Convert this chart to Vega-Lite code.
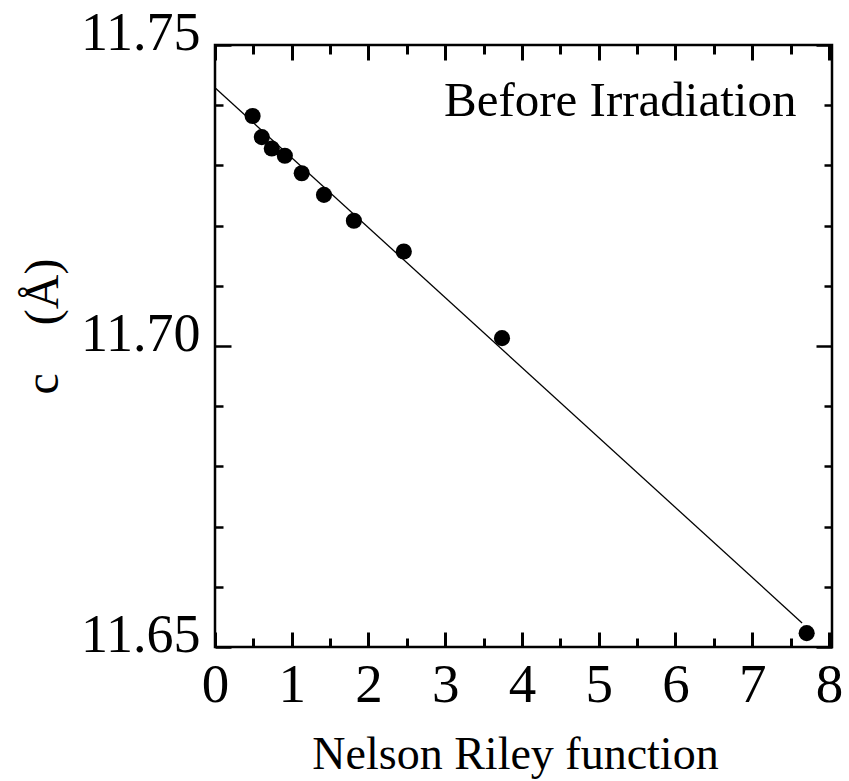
{
  "$schema": "https://vega.github.io/schema/vega-lite/v6.json",
  "width": 617,
  "height": 602,
  "autosize": {"type": "none"},
  "padding": {"left": 215, "top": 45, "right": 17, "bottom": 134},
  "background": "white",
  "config": {
    "view": {"stroke": "black", "strokeWidth": 2.5},
    "font": "Liberation Serif",
    "axis": {
      "labelColor": "black",
      "titleColor": "black",
      "labelFont": "Liberation Serif",
      "titleFont": "Liberation Serif",
      "titleFontWeight": "normal",
      "labelOverlap": false,
      "labelFlush": false
    }
  },
  "layer": [
    {
      "data": {"values": [
        {"nr": 0.0, "c": 11.7429},
        {"nr": 7.65, "c": 11.6540}
      ]},
      "mark": {"type": "line", "color": "black", "strokeWidth": 1.3},
      "encoding": {
        "x": {
          "field": "nr", "type": "quantitative",
          "scale": {"domain": [0, 8.04], "nice": false, "zero": false},
          "axis": {
            "orient": "bottom",
            "domain": false, "grid": false, "ticks": true,
            "tickColor": "#000000", "tickWidth": 3, "tickSize": -15,
            "title": "Nelson Riley function",
            "titleFontSize": 46,
            "titlePadding": 20,
            "titleX": 300,
            "values": [0, 1, 2, 3, 4, 5, 6, 7, 8],
            "format": "d",
            "labelFontSize": 55,
            "labelPadding": 26,
            "labelBaseline": "top"
          }
        },
        "y": {
          "field": "c", "type": "quantitative",
          "scale": {"domain": [11.65, 11.75], "nice": false, "zero": false},
          "axis": {
            "orient": "left",
            "domain": false, "grid": false, "ticks": true,
            "tickColor": "#000000", "tickWidth": 2.5, "tickSize": -16,
            "title": "c\u00a0\u00a0\u00a0\u00a0(Å)",
            "titleFontSize": 48,
            "titlePadding": 13,
            "titleY": 281,
            "values": [11.65, 11.7, 11.75],
            "format": ".2f",
            "labelFontSize": 54,
            "labelPadding": 31,
            "labelBaseline": "middle",
            "labelOffset": -12
          }
        }
      }
    },
    {
      "data": {"values": [
        {"nr": 0.49, "c": 11.7382},
        {"nr": 0.61, "c": 11.7347},
        {"nr": 0.74, "c": 11.7328},
        {"nr": 0.91, "c": 11.7316},
        {"nr": 1.13, "c": 11.7287},
        {"nr": 1.42, "c": 11.7251},
        {"nr": 1.81, "c": 11.7208},
        {"nr": 2.46, "c": 11.7157},
        {"nr": 3.74, "c": 11.7013}
      ]},
      "mark": {"type": "circle", "color": "black", "opacity": 1, "size": 260},
      "encoding": {
        "x": {
          "field": "nr", "type": "quantitative",
          "scale": {"domain": [0, 8.04], "nice": false, "zero": false},
          "axis": {
            "orient": "top", "title": null, "labels": false,
            "domain": false, "grid": false, "ticks": true,
            "tickColor": "#000000", "tickWidth": 3, "tickSize": -15,
            "values": [0, 1, 2, 3, 4, 5, 6, 7, 8]
          }
        },
        "y": {
          "field": "c", "type": "quantitative",
          "scale": {"domain": [11.65, 11.75], "nice": false, "zero": false},
          "axis": {
            "orient": "right", "title": null, "labels": false,
            "domain": false, "grid": false, "ticks": true,
            "tickColor": "#000000", "tickWidth": 2.5, "tickSize": -16,
            "values": [11.65, 11.7, 11.75]
          }
        }
      }
    },
    {
      "data": {"values": [
        {"nr": 7.71, "c": 11.6523}
      ]},
      "mark": {"type": "circle", "color": "black", "opacity": 1, "size": 260},
      "encoding": {
        "x": {
          "field": "nr", "type": "quantitative",
          "scale": {"domain": [0, 8.04], "nice": false, "zero": false},
          "axis": {
            "orient": "bottom", "title": null, "labels": false,
            "domain": false, "grid": false, "ticks": true,
            "tickColor": "#000000", "tickWidth": 3, "tickSize": -9,
            "values": [0.5, 1.5, 2.5, 3.5, 4.5, 5.5, 6.5, 7.5]
          }
        },
        "y": {
          "field": "c", "type": "quantitative",
          "scale": {"domain": [11.65, 11.75], "nice": false, "zero": false},
          "axis": {
            "orient": "left", "title": null, "labels": false,
            "domain": false, "grid": false, "ticks": true,
            "tickColor": "#000000", "tickWidth": 2.5, "tickSize": -8,
            "values": [11.66, 11.67, 11.68, 11.69, 11.71, 11.72, 11.73, 11.74]
          }
        }
      }
    },
    {
      "data": {"values": [{"nr": 5.28, "c": 11.7382, "label": "Before Irradiation"}]},
      "mark": {"type": "text", "font": "Liberation Serif", "fontSize": 49, "color": "black", "align": "center", "baseline": "alphabetic"},
      "encoding": {
        "x": {
          "field": "nr", "type": "quantitative",
          "scale": {"domain": [0, 8.04], "nice": false, "zero": false},
          "axis": {
            "orient": "top", "title": null, "labels": false,
            "domain": false, "grid": false, "ticks": true,
            "tickColor": "#000000", "tickWidth": 3, "tickSize": -9,
            "values": [0.5, 1.5, 2.5, 3.5, 4.5, 5.5, 6.5, 7.5]
          }
        },
        "y": {
          "field": "c", "type": "quantitative",
          "scale": {"domain": [11.65, 11.75], "nice": false, "zero": false},
          "axis": {
            "orient": "right", "title": null, "labels": false,
            "domain": false, "grid": false, "ticks": true,
            "tickColor": "#000000", "tickWidth": 2.5, "tickSize": -8,
            "values": [11.66, 11.67, 11.68, 11.69, 11.71, 11.72, 11.73, 11.74]
          }
        },
        "text": {"field": "label"}
      }
    }
  ],
  "resolve": {"axis": {"x": "independent", "y": "independent"}}
}
